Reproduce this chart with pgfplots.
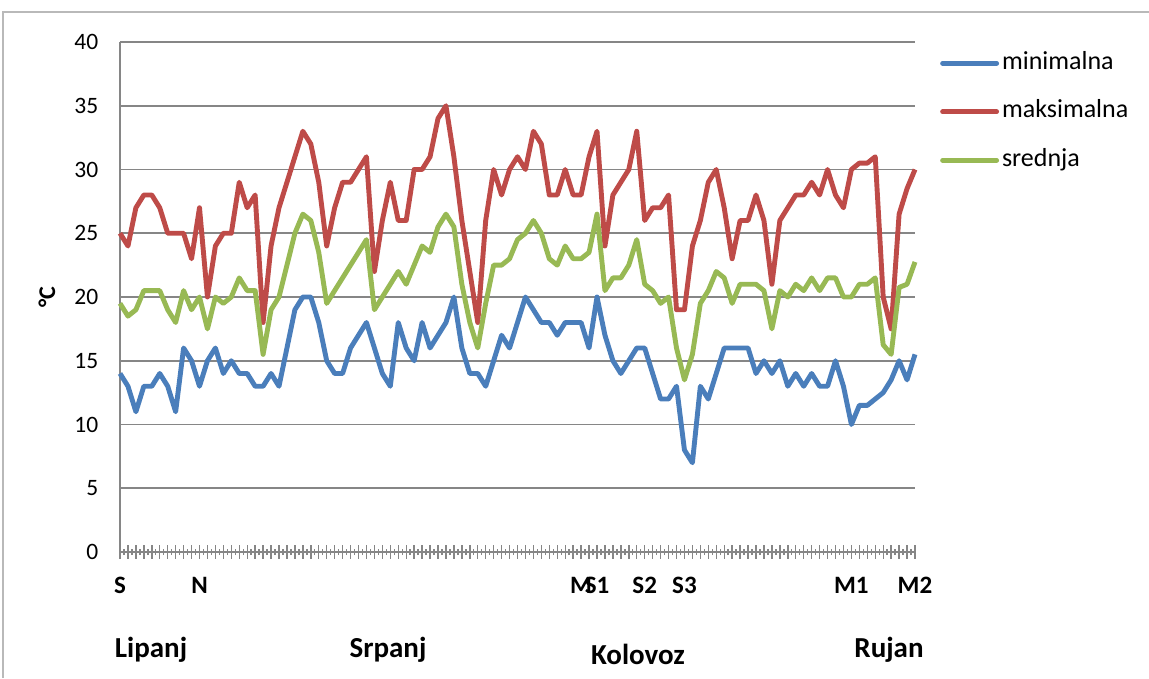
\documentclass[border=0pt]{standalone}
\usepackage{pgfplots}
\usepackage{pgfplotstable}
\pgfplotsset{compat=1.18}
\usepackage{fontspec}
\setmainfont{Carlito}
\definecolor{cmin}{HTML}{4A7EBB}
\definecolor{cmax}{HTML}{BE4B48}
\definecolor{cmean}{HTML}{98B954}
\definecolor{gridc}{HTML}{868686}
\pgfplotstableread{
x min max mean
0 14 25 19.5
1 13 24 18.5
2 11 27 19
3 13 28 20.5
4 13 28 20.5
5 14 27 20.5
6 13 25 19
7 11 25 18
8 16 25 20.5
9 15 23 19
10 13 27 20
11 15 20 17.5
12 16 24 20
13 14 25 19.5
14 15 25 20
15 14 29 21.5
16 14 27 20.5
17 13 28 20.5
18 13 18 15.5
19 14 24 19
20 13 27 20
21 16 29 22.5
22 19 31 25
23 20 33 26.5
24 20 32 26
25 18 29 23.5
26 15 24 19.5
27 14 27 20.5
28 14 29 21.5
29 16 29 22.5
30 17 30 23.5
31 18 31 24.5
32 16 22 19
33 14 26 20
34 13 29 21
35 18 26 22
36 16 26 21
37 15 30 22.5
38 18 30 24
39 16 31 23.5
40 17 34 25.5
41 18 35 26.5
42 20 31 25.5
43 16 26 21
44 14 22 18
45 14 18 16
46 13 26 19.5
47 15 30 22.5
48 17 28 22.5
49 16 30 23
50 18 31 24.5
51 20 30 25
52 19 33 26
53 18 32 25
54 18 28 23
55 17 28 22.5
56 18 30 24
57 18 28 23
58 18 28 23
59 16 31 23.5
60 20 33 26.5
61 17 24 20.5
62 15 28 21.5
63 14 29 21.5
64 15 30 22.5
65 16 33 24.5
66 16 26 21
67 14 27 20.5
68 12 27 19.5
69 12 28 20
70 13 19 16
71 8 19 13.5
72 7 24 15.5
73 13 26 19.5
74 12 29 20.5
75 14 30 22
76 16 27 21.5
77 16 23 19.5
78 16 26 21
79 16 26 21
80 14 28 21
81 15 26 20.5
82 14 21 17.5
83 15 26 20.5
84 13 27 20
85 14 28 21
86 13 28 20.5
87 14 29 21.5
88 13 28 20.5
89 13 30 21.5
90 15 28 21.5
91 13 27 20
92 10 30 20
93 11.5 30.5 21
94 11.5 30.5 21
95 12 31 21.5
96 12.5 20 16.25
97 13.5 17.5 15.5
98 15 26.5 20.75
99 13.5 28.5 21
100 15.5 30 22.75
}\data
\begin{document}
\begin{tikzpicture}[x=1pt,y=1pt]
\useasboundingbox (0,0) rectangle (1149,678);
\draw[gray!55, line width=1.2pt] (3,0) -- (3,666) -- (1160,666);
\begin{axis}[
  at={(120pt,126pt)}, anchor=south west,
  scale only axis, width=795pt, height=510pt,
  xmin=0, xmax=100, ymin=0, ymax=40,
  axis x line*=bottom, axis y line*=left,
  axis line style={gridc, line width=2pt},
  ytick={0,5,...,40},
  ymajorgrids, grid style={gridc, line width=1.8pt},
  y tick style={draw=none},
  yticklabel style={font=\fontsize{23.5}{28}\selectfont, inner sep=0pt, anchor=east, xshift=-15pt},
  /pgf/number format/assume math mode=true,
  xtick={0,...,100}, xticklabels={},
  minor x tick num=1,
  tick align=center,
  x tick style={gridc, line width=1.4pt},
  major tick length=13pt, minor tick length=6pt,
  extra x ticks={0,10,58,60,66,71,92,100},
  extra x tick labels={S,N,M,S1,S2,S3,M1,M2},
  extra x tick style={major tick length=0pt, grid=none,
     xticklabel style={font=\fontsize{25}{30}\selectfont\bfseries, anchor=base, inner sep=0pt, yshift=-41pt}},
  legend style={at={(axis description cs:1.0314,0.988)}, anchor=north west, draw=none, fill=none,
     inner sep=0pt, row sep=18.5pt,
     font=\fontsize{26}{30}\selectfont,
     nodes={text height=18pt, text depth=6pt, inner sep=3pt}},
  legend cell align=left,
  legend image code/.code={\draw[#1, line cap=round] (0pt,0pt) -- (54pt,0pt);},
  every axis plot/.append style={line width=4.9pt, line join=round},
  clip=false,
]
\addplot[cmin, mark=none] table[x=x, y=min] {\data};
\addlegendentry{minimalna}
\addplot[cmax, mark=none] table[x=x, y=max] {\data};
\addlegendentry{maksimalna}
\addplot[cmean, mark=none] table[x=x, y=mean] {\data};
\addlegendentry{srednja}
\end{axis}
\node[rotate=90, font=\fontsize{24}{28}\selectfont\bfseries] at (47,381) {°C};
\node[anchor=base, font=\fontsize{29}{34}\selectfont\bfseries] at (151,21) {Lipanj};
\node[anchor=base, font=\fontsize{29}{34}\selectfont\bfseries] at (388,21) {Srpanj};
\node[anchor=base, font=\fontsize{29}{34}\selectfont\bfseries] at (638,14) {Kolovoz};
\node[anchor=base, font=\fontsize{29}{34}\selectfont\bfseries] at (889,21) {Rujan};
\end{tikzpicture}
\end{document}
